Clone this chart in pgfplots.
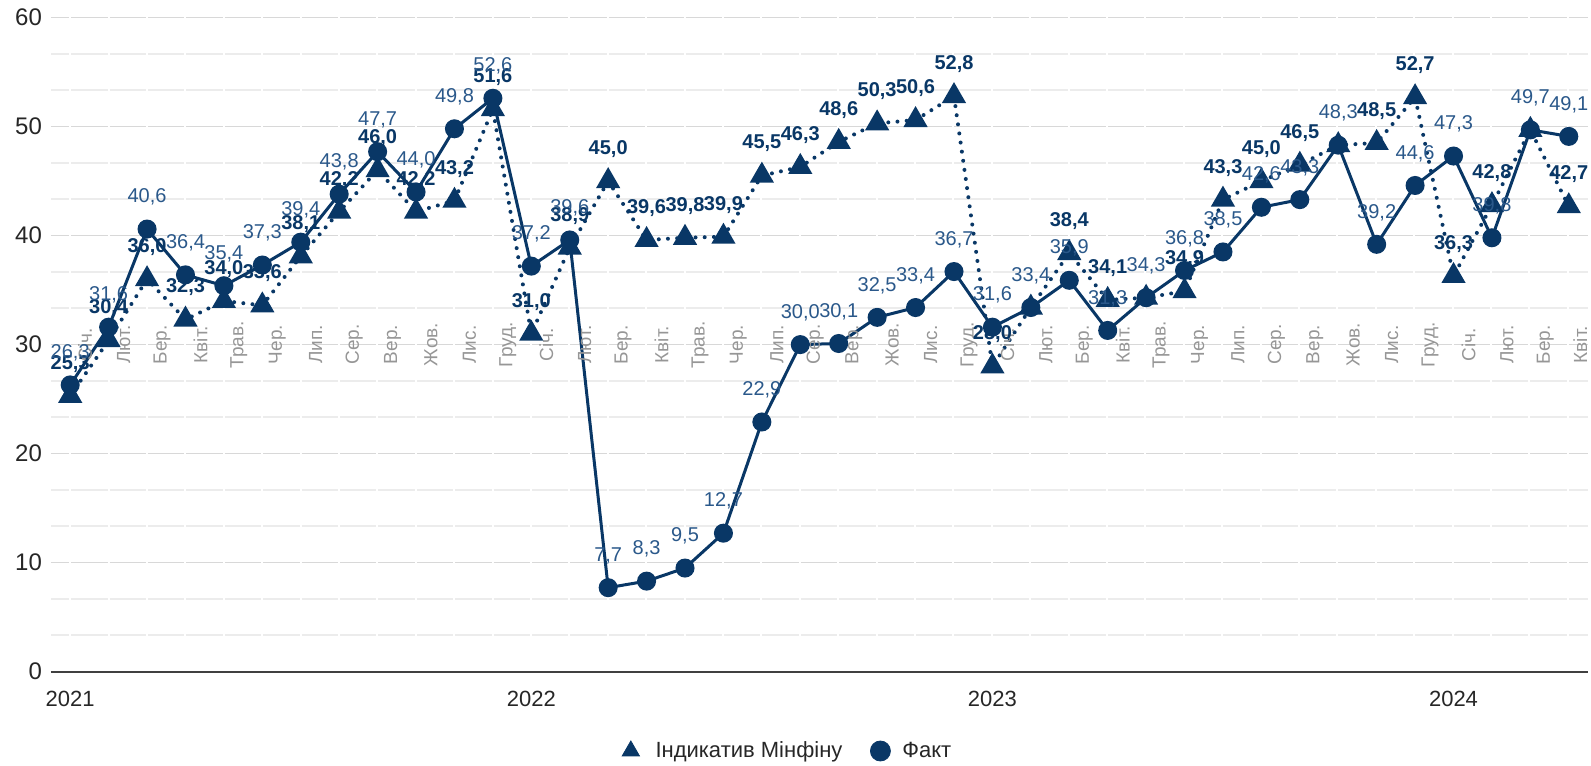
\documentclass[border=0pt]{standalone}
\usepackage{fontspec}
\setmainfont{Liberation Sans}
\usepackage{pgfplots}
\usepackage{pgfplotstable}
\pgfplotsset{compat=1.18}
\definecolor{navy}{RGB}{9,55,102}
\definecolor{labblue}{RGB}{42,88,138}
\definecolor{gridc}{RGB}{216,216,216}
\definecolor{gridm}{RGB}{236,236,236}
\definecolor{monc}{RGB}{150,150,150}

\pgfplotstableread{
x fact ind fl il
0 26.3 25.3 26,3 25,3
1 31.6 30.4 31,6 30,4
2 40.6 36.0 40,6 36,0
3 36.4 32.3 36,4 32,3
4 35.4 34.0 35,4 34,0
5 37.3 33.6 37,3 33,6
6 39.4 38.1 39,4 38,1
7 43.8 42.2 43,8 42,2
8 47.7 46.0 47,7 46,0
9 44.0 42.2 44,0 42,2
10 49.8 43.2 49,8 43,2
11 52.6 51.6 52,6 51,6
12 37.2 31.0 37,2 31,0
13 39.6 38.9 39,6 38,9
14 7.7 45.0 7,7 45,0
15 8.3 39.6 8,3 39,6
16 9.5 39.8 9,5 39,8
17 12.7 39.9 12,7 39,9
18 22.9 45.5 22,9 45,5
19 30.0 46.3 30,0 46,3
20 30.1 48.6 30,1 48,6
21 32.5 50.3 32,5 50,3
22 33.4 50.6 33,4 50,6
23 36.7 52.8 36,7 52,8
24 31.6 28.0 31,6 28,0
25 33.4 33.4 33,4 {}
26 35.9 38.4 35,9 38,4
27 31.3 34.1 31,3 34,1
28 34.3 34.3 34,3 {}
29 36.8 34.9 36,8 34,9
30 38.5 43.3 38,5 43,3
31 42.6 45.0 42,6 45,0
32 43.3 46.5 43,3 46,5
33 48.3 48.3 48,3 {}
34 39.2 48.5 39,2 48,5
35 44.6 52.7 44,6 52,7
36 47.3 36.3 47,3 36,3
37 39.8 42.8 39,8 42,8
38 49.7 49.7 49,7 {}
39 49.1 42.7 49,1 42,7
}\data

\pgfplotstableread{
x y m
0.39 30 Січ.
1.39 30 Лют.
2.39 30 Бер.
3.39 30 Квіт.
4.39 30 Трав.
5.39 30 Чер.
6.39 30 Лип.
7.39 30 Сер.
8.39 30 Вер.
9.39 30 Жов.
10.39 30 Лис.
11.39 30 Груд.
12.39 30 Січ.
13.39 30 Лют.
14.39 30 Бер.
15.39 30 Квіт.
16.39 30 Трав.
17.39 30 Чер.
18.39 30 Лип.
19.39 30 Сер.
20.39 30 Вер.
21.39 30 Жов.
22.39 30 Лис.
23.39 30 Груд.
24.39 30 Січ.
25.39 30 Лют.
26.39 30 Бер.
27.39 30 Квіт.
28.39 30 Трав.
29.39 30 Чер.
30.39 30 Лип.
31.39 30 Сер.
32.39 30 Вер.
33.39 30 Жов.
34.39 30 Лис.
35.39 30 Груд.
36.39 30 Січ.
37.39 30 Лют.
38.39 30 Бер.
39.30 30 Квіт.
}\months

\begin{document}
\begin{tikzpicture}
\begin{axis}[
  at={(0,0)}, anchor=south west, scale only axis,
  width=768.5pt, height=327pt,
  xmin=-0.5, xmax=39.5, ymin=0, ymax=60,
  xtick={0,12,24,36}, xticklabels={2021,2022,2023,2024},
  ytick={0,10,...,60}, minor y tick num=2,
  ymajorgrids, yminorgrids,
  major grid style={gridc, line width=0.8pt, dash pattern=on 18.2pt off 1pt, dash phase=9.1pt},
  minor grid style={gridm, line width=0.8pt, dash pattern=on 18.2pt off 1pt, dash phase=9.1pt},
  axis line style={draw=none},
  major tick length=0pt, minor tick length=0pt,
  tick label style={font=\fontsize{11}{12}\selectfont, text=black!85},
  yticklabel style={font=\fontsize{12}{13}\selectfont, xshift=-1pt},
  /pgf/number format/assume math mode=true,
  xticklabel style={yshift=-6pt},
  extra y ticks={0}, extra y tick labels={},
  extra y tick style={grid=major, major grid style={black!75, line width=1pt, solid}},
  clip=false,
  legend columns=2,
  legend style={at={(0.48,-0.1214)}, anchor=center, draw=none, fill=none,
    font=\fontsize{11}{12}\selectfont, text=black!85,
    /tikz/every even column/.append style={column sep=12pt}},
]
\addlegendimage{only marks, mark=triangle*, mark size=5pt, navy}
\addlegendentry{\hspace{6pt}Індикатив Мінфіну}
\addlegendimage{only marks, mark=*, mark size=5pt, navy}
\addlegendentry{\hspace{4pt}Факт}

% month labels
\addplot[draw=none, mark=none, forget plot, nodes near coords, point meta=explicit symbolic,
  nodes near coords style={anchor=center, rotate=90, font=\fontsize{9.5}{10}\selectfont, text=monc}]
  table[x=x, y=y, meta=m] \months;

\addplot[navy, line width=2pt, line cap=round, dash pattern=on 0pt off 4.6pt,
  mark=triangle*, mark size=5pt, mark options={solid}, forget plot]
  table[x=x, y=ind] \data;
\addplot[navy, line width=1.5pt, mark=*, mark size=4pt, forget plot]
  table[x=x, y=fact] \data;

\addplot[draw=none, mark=none, forget plot, nodes near coords, point meta=explicit symbolic,
  nodes near coords style={anchor=center, yshift=16pt, font=\bfseries\fontsize{10}{11}\selectfont, text=navy}]
  table[x=x, y=ind, meta=il] \data;
\addplot[draw=none, mark=none, forget plot, nodes near coords, point meta=explicit symbolic,
  nodes near coords style={anchor=center, yshift=16pt, font=\fontsize{10}{11}\selectfont, text=labblue}]
  table[x=x, y=fact, meta=fl] \data;
\end{axis}
\pgfresetboundingbox
\path (-25.5pt,-47.2pt) rectangle (770pt,335.8pt);
\end{tikzpicture}
\end{document}
